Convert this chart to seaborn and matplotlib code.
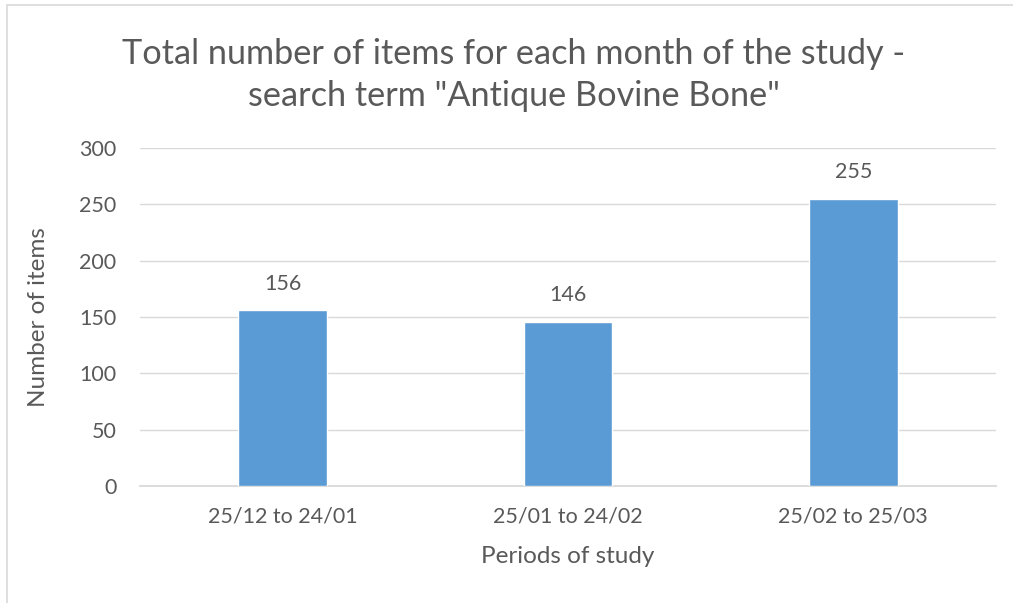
import matplotlib
matplotlib.use("Agg")
import matplotlib.pyplot as plt
import seaborn as sns
import pandas as pd
from matplotlib.patches import Rectangle

periods = ["25/12 to 24/01", "25/01 to 24/02", "25/02 to 25/03"]
items = [156, 146, 255]
yticks = [0, 50, 100, 150, 200, 250, 300]

sns.set_theme(style="white")
plt.rcParams['font.family'] = ['Lato', 'DejaVu Sans']
TXT = "#595959"

df = pd.DataFrame({"period": periods, "items": items})

fig = plt.figure(figsize=(10.13, 6.03), dpi=100)
ax = fig.add_axes([140/1013, 1-486/603, (996-140)/1013, (486-148)/603])

sns.barplot(data=df, x="period", y="items", color="#5B9BD5", width=0.31,
            saturation=1, ax=ax, zorder=3)

ax.set_ylim(0, 300)
ax.set_yticks(yticks)
ax.set_xlim(-0.5, 2.5)
ax.grid(axis="y", color="#D9D9D9", linewidth=1.0, zorder=0)
for s in ["top", "right", "left"]:
    ax.spines[s].set_visible(False)
ax.spines["bottom"].set_color("#D9D9D9")
ax.spines["bottom"].set_linewidth(1.3)
ax.tick_params(axis="both", length=0, labelsize=15.5, colors=TXT)
ax.tick_params(axis="y", pad=17)
ax.tick_params(axis="x", pad=15)

for i, v in enumerate(items):
    ax.annotate(str(v), (i, v), xytext=(0, 12), textcoords="offset points",
                ha="center", va="bottom", fontsize=15.5, color=TXT)

ax.set_xlabel("Periods of study", fontsize=17.5, color=TXT, labelpad=14)
ax.set_ylabel("Number of items", fontsize=17.5, color=TXT, labelpad=22)

fig.text(514/1013, 1-75/603, 'Total number of items for each month of the study -\nsearch term "Antique Bovine Bone"',
         ha="center", va="center", fontsize=24.7, color=TXT, linespacing=1.42)

fig.patches.append(Rectangle((7/1013, -0.1), 1.2, 1-5/603+0.1, transform=fig.transFigure,
                             fill=False, edgecolor="#D9D9D9", linewidth=1.2))

fig.savefig("out.png", dpi=100)
